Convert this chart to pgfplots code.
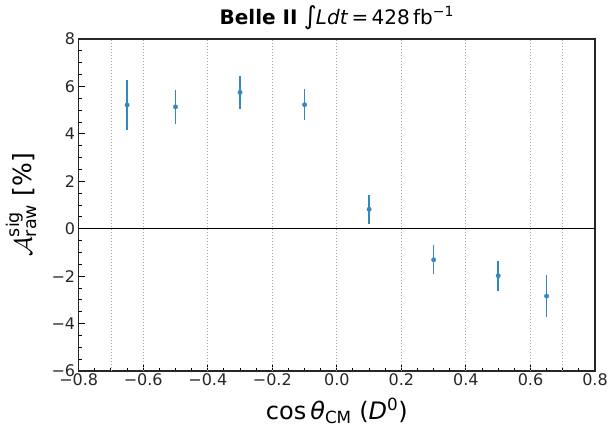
\documentclass[border=0pt]{standalone}
\usepackage{amsmath}
\usepackage{fontspec}
\setmainfont{DejaVu Sans}
\usepackage{pgfplots}
\pgfplotsset{compat=1.18}
\definecolor{ptblue}{RGB}{52,136,192}
\pgfplotstableread{
x y e
-0.65 5.22 1.04
-0.50 5.14 0.72
-0.30 5.75 0.70
-0.10 5.23 0.66
0.10 0.82 0.61
0.30 -1.31 0.61
0.50 -1.98 0.63
0.65 -2.84 0.89
}\datatable
\begin{document}
\begin{tikzpicture}
\useasboundingbox (-78.7pt,-60pt) rectangle (531.3pt,371pt);
\begin{axis}[
  scale only axis,
  width=516.3pt, height=332pt,
  at={(0pt,0pt)}, anchor=south west,
  xmin=-0.8, xmax=0.8, ymin=-6, ymax=8,
  xtick={-0.8,-0.6,-0.4,-0.2,0,0.2,0.4,0.6,0.8},
  xticklabels={−0.8,−0.6,−0.4,−0.2,0.0,0.2,0.4,0.6,0.8},
  ytick={-6,-4,-2,0,2,4,6,8},
  yticklabels={−6,−4,−2,0,2,4,6,8},
  minor x tick num=3, minor y tick num=3,
  tick align=inside,
  xtick pos=bottom, ytick pos=left,
  major tick length=6pt, minor tick length=3.5pt,
  every tick/.style={black, line width=1pt},
  axis line style={line width=1.4pt, black!85},
  tick label style={font=\fontsize{16}{18}\selectfont, text=black!85},
  xticklabel style={yshift=1pt},
  clip=false,
  xlabel={\fontsize{24}{28}\selectfont cos\,\textit{θ}\textsubscript{CM} (\textit{D}\textsuperscript{0})},
  ylabel={\fontsize{25}{28}\selectfont $\mathcal{A}^{\text{sig}}_{\text{raw}}$ [\%]},
  xlabel style={at={(axis description cs:0.5,0)}, anchor=center, yshift=-40pt},
  ylabel style={at={(axis description cs:0,0.5)}, anchor=center, rotate=0, yshift=57pt},
  title={\fontsize{20}{24}\selectfont\textbf{Belle II} {\fontsize{25}{26}\selectfont ∫}\kern-1pt\textit{Ldt}\,=\,428\,fb\textsuperscript{−1}},
  title style={at={(axis description cs:0.5,1)}, anchor=base, yshift=9pt},
]
\pgfplotsinvokeforeach{-0.7,-0.6,-0.4,-0.2,0,0.2,0.4,0.6,0.7}{
  \draw[black!35, line width=0.9pt, dash pattern=on 1pt off 2pt] (axis cs:#1,-6) -- (axis cs:#1,8);
}
\draw[black, line width=1.5pt] (axis cs:-0.8,0) -- (axis cs:0.8,0);
\addplot[only marks, mark=*, mark size=2.2pt, color=ptblue,
  error bars/.cd, y dir=both, y explicit, error mark=none,
  error bar style={line width=1.6pt, color=ptblue}]
  table[x=x, y=y, y error=e] {\datatable};
\end{axis}
\end{tikzpicture}
\end{document}
